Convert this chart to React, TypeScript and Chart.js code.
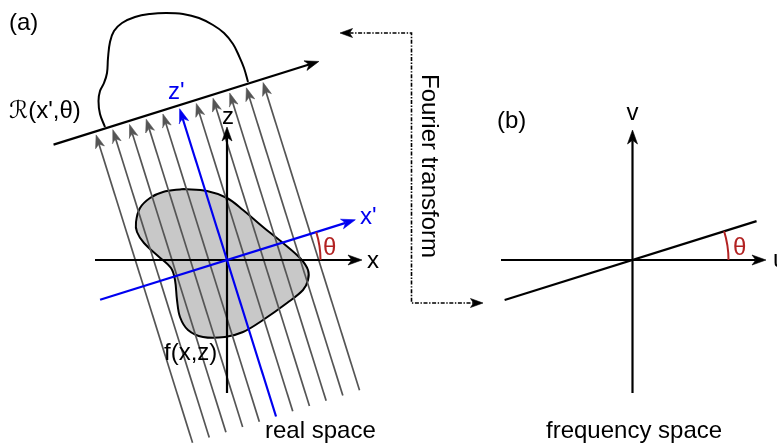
import { useEffect, useRef } from "react";
import { Chart, registerables } from "chart.js";

Chart.register(...registerables);

const WIDTH = 777;
const HEIGHT = 446;

// Projection angle θ in degrees, shared by both panels
const THETA_DEG = 17.4;

// ---- panel (a): real space -------------------------------------------
const realOrigin = [227, 260];
const xAxisA = [95, 362]; // left end, arrow tip
const zAxisA = [393, 127]; // bottom end, arrow tip
const xPrimeSpan = [-133, 134.5]; // along rotated x'
const zPrimeSpan = [-164, 158.5]; // along rotated z'
const rayOffsets = [-87.5, -70, -52.5, -35, -17.5, 17.5, 35, 52.5, 70, 87.5];
const raySpan = [-164, 158.5];
const detectorZ = 162;
const detectorSpan = [-131, 147];

// outline of the object f(x,z)
const objectOutline = [
  [183, 189], [207, 191], [227, 198], [243, 210], [263, 227], [283, 243],
  [300, 258], [308, 270], [308, 280], [303, 290], [287, 303], [263, 320],
  [243, 332], [225, 337], [203, 337], [188, 330], [180, 317], [177, 300],
  [175, 280], [171, 268], [158, 256], [144, 243], [137, 232], [136, 222],
  [140, 208], [150, 198], [163, 192], [183, 189],
];

// projection profile R(x',θ) standing on the detector line
const projectionProfile = [
  [105, 127], [100, 114], [98.5, 101], [100, 91], [104, 83], [107, 73],
  [108, 58], [110, 42], [114, 31], [122, 23], [135, 17], [150, 14],
  [166, 13], [183, 14], [199, 18], [213, 25], [224, 33], [233, 44],
  [239, 56], [244, 68], [248, 82],
];

// ---- "Fourier transform" connector -------------------------------------
const connectorPath = [[340, 33], [411.5, 33], [411.5, 303], [483, 303]];

// ---- panel (b): frequency space ----------------------------------------
const freqOrigin = [632.5, 260];
const uAxisB = [501, 766];
const vAxisB = [393, 130];
const sliceSpan = [-134, 130];

// θ arcs: [centre x, centre y, radius]
const angleArcs = [
  [227, 260, 93.5],
  [632.5, 260, 96],
];

const BLACK = "#000000";
const GREY = "#555555";
const BLUE = "#0000f0";
const RED = "#b22222";
const FILL = "#c8c8c8";

type Label = { text: string; x: number; y: number; color: string; rotate?: boolean };

const FONT = "24px 'Liberation Sans', Arial, 'DejaVu Sans', sans-serif";

const labels: Label[] = [
  { text: "(a)", x: 9, y: 30, color: BLACK },
  { text: "\u211B(x',θ)", x: 9, y: 118, color: BLACK },
  { text: "z'", x: 168, y: 98.5, color: BLUE },
  { text: "z", x: 222, y: 123.5, color: BLACK },
  { text: "x'", x: 360, y: 224, color: BLUE },
  { text: "x", x: 367, y: 268, color: BLACK },
  { text: "θ", x: 323, y: 255, color: RED },
  { text: "f(x,z)", x: 164, y: 360, color: BLACK },
  { text: "real space", x: 265, y: 438, color: BLACK },
  { text: "Fourier transform", x: 422, y: 74, color: BLACK, rotate: true },
  { text: "(b)", x: 497, y: 128, color: BLACK },
  { text: "v", x: 626.5, y: 120, color: BLACK },
  { text: "u", x: 773, y: 267, color: BLACK },
  { text: "θ", x: 733, y: 255, color: RED },
  { text: "frequency space", x: 546, y: 438, color: BLACK },
];

type P = { x: number; y: number };

const rad = (THETA_DEG * Math.PI) / 180;
const cosT = Math.cos(rad);
const sinT = Math.sin(rad);

// point in the rotated (x', z') frame around an origin
const rotated = (o: number[], xp: number, zp: number): P => ({
  x: o[0] + xp * cosT - zp * sinT,
  y: o[1] - xp * sinT - zp * cosT,
});

const pt = (p: number[]): P => ({ x: p[0], y: p[1] });

// stealth-style arrow: shaft stops inside the head, head is a notched triangle
function arrow(from: P, tip: P, len: number, half: number, notch: number) {
  const dx = tip.x - from.x;
  const dy = tip.y - from.y;
  const d = Math.hypot(dx, dy);
  const ux = dx / d;
  const uy = dy / d;
  const px = -uy;
  const py = ux;
  const bx = tip.x - ux * len;
  const by = tip.y - uy * len;
  const inner = { x: tip.x - ux * (len - notch), y: tip.y - uy * (len - notch) };
  return {
    shaft: [from, inner],
    head: [tip, { x: bx + px * half, y: by + py * half }, inner, { x: bx - px * half, y: by - py * half }, tip],
  };
}

function buildDatasets() {
  const sets: any[] = [];
  const line = (data: P[], color: string, width: number, extra: any = {}) =>
    sets.push({
      data,
      showLine: true,
      borderColor: color,
      borderWidth: width,
      pointRadius: 0,
      fill: false,
      tension: 0,
      ...extra,
    });
  const head = (data: P[], color: string) =>
    sets.push({
      data,
      showLine: true,
      borderColor: color,
      borderWidth: 0.6,
      backgroundColor: color,
      pointRadius: 0,
      fill: "shape",
      tension: 0,
    });
  const arrowLine = (from: P, tip: P, color: string, width: number, len: number, half: number, notch: number) => {
    const a = arrow(from, tip, len, half, notch);
    line(a.shaft, color, width);
    head(a.head, color);
  };

  // object f(x,z)
  line(objectOutline.map(pt), BLACK, 2, {
    fill: "shape",
    backgroundColor: FILL,
    tension: 0.35,
  });

  // parallel projection rays
  for (const off of rayOffsets) {
    arrowLine(rotated(realOrigin, off, raySpan[0]), rotated(realOrigin, off, raySpan[1]), GREY, 1.7, 13, 4.6, 3.5);
  }

  // projection profile
  line(projectionProfile.map(pt), BLACK, 2, { tension: 0.4 });

  // detector line
  arrowLine(
    rotated(realOrigin, detectorSpan[0], detectorZ),
    rotated(realOrigin, detectorSpan[1], detectorZ),
    BLACK, 2.2, 14, 5, 3.8
  );

  // x and z axes
  arrowLine({ x: xAxisA[0], y: realOrigin[1] }, { x: xAxisA[1], y: realOrigin[1] }, BLACK, 2.2, 14, 5, 3.8);
  arrowLine({ x: realOrigin[0], y: zAxisA[0] }, { x: realOrigin[0], y: zAxisA[1] }, BLACK, 2.2, 14, 5, 3.8);

  // rotated x' and z' axes
  arrowLine(rotated(realOrigin, xPrimeSpan[0], 0), rotated(realOrigin, xPrimeSpan[1], 0), BLUE, 2.2, 14, 5, 3.8);
  arrowLine(rotated(realOrigin, 0, zPrimeSpan[0]), rotated(realOrigin, 0, zPrimeSpan[1]), BLUE, 2.2, 14, 5, 3.8);

  // Fourier transform connector (dash-dot)
  const cp = connectorPath.map(pt);
  const startA = arrow(cp[1], cp[0], 12.5, 4.5, 3);
  const endA = arrow(cp[2], cp[3], 12.5, 4.5, 3);
  line([startA.shaft[1], cp[1], cp[2], endA.shaft[1]], BLACK, 1.6, { borderDash: [4, 1.6, 1.4, 1.6] });
  head(startA.head, BLACK);
  head(endA.head, BLACK);

  // frequency space axes and central slice
  arrowLine({ x: uAxisB[0], y: freqOrigin[1] }, { x: uAxisB[1], y: freqOrigin[1] }, BLACK, 2.2, 14, 5, 3.8);
  arrowLine({ x: freqOrigin[0], y: vAxisB[0] }, { x: freqOrigin[0], y: vAxisB[1] }, BLACK, 2.2, 14, 5, 3.8);
  line([rotated(freqOrigin, sliceSpan[0], 0), rotated(freqOrigin, sliceSpan[1], 0)], BLACK, 2.2);

  // first dataset at the bottom of the stack
  return sets.map((s, i) => ({ ...s, order: -i }));
}

const annotations = {
  id: "annotations",
  afterDatasetsDraw(chart: any) {
    const { ctx, scales } = chart;
    const sx = scales.x;
    const sy = scales.y;
    ctx.save();
    for (const [cx, cy, r] of angleArcs) {
      const px = sx.getPixelForValue(cx);
      const py = sy.getPixelForValue(cy);
      const pr = sx.getPixelForValue(cx + r) - px;
      ctx.beginPath();
      ctx.arc(px, py, pr, -rad, 0);
      ctx.strokeStyle = RED;
      ctx.lineWidth = 2;
      ctx.stroke();
    }
    ctx.textBaseline = "alphabetic";
    ctx.textAlign = "left";
    ctx.font = FONT;
    for (const l of labels) {
      const px = sx.getPixelForValue(l.x);
      const py = sy.getPixelForValue(l.y);
      ctx.fillStyle = l.color;
      if (l.rotate) {
        ctx.save();
        ctx.translate(px, py);
        ctx.rotate(Math.PI / 2);
        ctx.fillText(l.text, 0, 0);
        ctx.restore();
      } else {
        ctx.fillText(l.text, px, py);
      }
    }
    ctx.restore();
  },
};

export default function App() {
  const canvasRef = useRef<HTMLCanvasElement | null>(null);

  useEffect(() => {
    if (!canvasRef.current) return;
    const chart = new Chart(canvasRef.current, {
      type: "scatter",
      data: { datasets: buildDatasets() },
      options: {
        animation: false,
        responsive: false,
        maintainAspectRatio: false,
        devicePixelRatio: 1,
        layout: { padding: 0 },
        events: [],
        scales: {
          x: { type: "linear", min: 0, max: WIDTH, display: false },
          y: { type: "linear", min: 0, max: HEIGHT, reverse: true, display: false },
        },
        plugins: {
          legend: { display: false },
          tooltip: { enabled: false },
          title: { display: false },
        },
      },
      plugins: [annotations],
    });
    return () => chart.destroy();
  }, []);

  return (
    <div style={{ position: "fixed", left: 0, top: 0, width: WIDTH, height: HEIGHT, background: "#fff" }}>
      <canvas ref={canvasRef} width={WIDTH} height={HEIGHT} style={{ width: WIDTH, height: HEIGHT, display: "block" }} />
    </div>
  );
}
